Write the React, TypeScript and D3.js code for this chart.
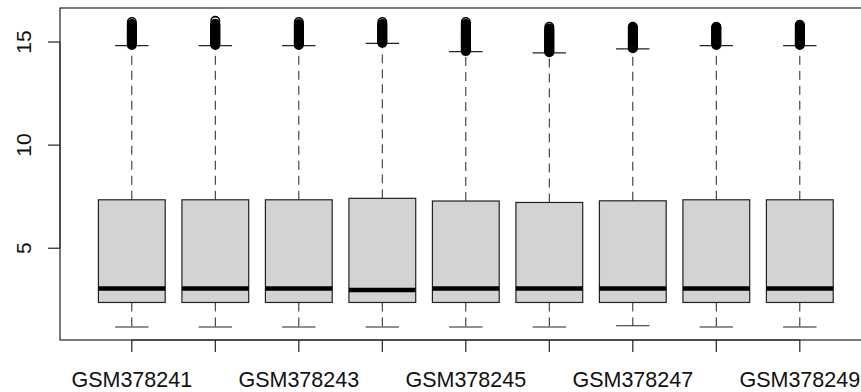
import React from "react";
import * as d3 from "d3";

const samples = [
  "GSM378241",
  "GSM378242",
  "GSM378243",
  "GSM378244",
  "GSM378245",
  "GSM378246",
  "GSM378247",
  "GSM378248",
  "GSM378249",
];
const lowerWhisker = [1.18, 1.18, 1.18, 1.18, 1.18, 1.18, 1.24, 1.18, 1.18];
const q1 = [2.37, 2.37, 2.37, 2.37, 2.37, 2.37, 2.37, 2.37, 2.37];
const medians = [3.05, 3.05, 3.05, 2.97, 3.05, 3.05, 3.05, 3.05, 3.05];
const q3 = [7.35, 7.35, 7.35, 7.42, 7.29, 7.22, 7.3, 7.35, 7.35];
const upperWhisker = [14.83, 14.83, 14.83, 14.93, 14.53, 14.47, 14.67, 14.83, 14.83];

// outliers above the upper whisker (thousands in the original, a readable subset here)
const out1 = [14.86, 14.9, 14.94, 14.98, 15.03, 15.07, 15.11, 15.15, 15.2, 15.24, 15.28, 15.33, 15.37, 15.41, 15.46, 15.5, 15.55, 15.59, 15.64, 15.68, 15.73, 15.78, 15.83, 15.87, 15.97];
const out2 = [14.86, 14.9, 14.94, 14.99, 15.03, 15.07, 15.12, 15.16, 15.2, 15.25, 15.29, 15.33, 15.38, 15.42, 15.47, 15.51, 15.56, 15.6, 15.65, 15.7, 15.74, 15.79, 15.84, 15.89, 16.03];
const out3 = [14.86, 14.9, 14.95, 14.99, 15.03, 15.08, 15.12, 15.16, 15.21, 15.25, 15.29, 15.34, 15.38, 15.42, 15.47, 15.51, 15.56, 15.6, 15.65, 15.69, 15.74, 15.79, 15.84, 15.88, 15.97];
const out4 = [14.96, 15.0, 15.04, 15.08, 15.13, 15.17, 15.21, 15.25, 15.3, 15.34, 15.38, 15.43, 15.47, 15.52, 15.56, 15.61, 15.65, 15.7, 15.74, 15.79, 15.84, 15.88, 15.97];
const out5 = [14.56, 14.6, 14.64, 14.68, 14.73, 14.77, 14.81, 14.85, 14.9, 14.94, 14.98, 15.03, 15.07, 15.11, 15.16, 15.2, 15.24, 15.29, 15.33, 15.37, 15.42, 15.46, 15.51, 15.55, 15.6, 15.64, 15.69, 15.74, 15.79, 15.84, 15.88, 15.97];
const out6 = [14.5, 14.54, 14.58, 14.62, 14.67, 14.71, 14.75, 14.79, 14.84, 14.88, 14.92, 14.97, 15.01, 15.05, 15.1, 15.14, 15.18, 15.23, 15.27, 15.32, 15.36, 15.41, 15.45, 15.5, 15.55, 15.6, 15.65, 15.74];
const out7 = [14.7, 14.74, 14.78, 14.83, 14.87, 14.91, 14.95, 15.0, 15.04, 15.08, 15.13, 15.17, 15.21, 15.26, 15.3, 15.34, 15.39, 15.43, 15.48, 15.52, 15.57, 15.61, 15.66, 15.7, 15.74];
const out8 = [14.86, 14.9, 14.94, 14.98, 15.03, 15.07, 15.11, 15.15, 15.2, 15.24, 15.28, 15.33, 15.37, 15.41, 15.46, 15.5, 15.55, 15.59, 15.63, 15.67, 15.71, 15.74];
const out9 = [14.86, 14.9, 14.94, 14.98, 15.03, 15.07, 15.11, 15.15, 15.2, 15.24, 15.28, 15.33, 15.37, 15.41, 15.46, 15.5, 15.55, 15.59, 15.63, 15.68, 15.72, 15.76, 15.8, 15.84];
const outliers = [out1, out2, out3, out4, out5, out6, out7, out8, out9];

const yTicks = [5, 10, 15];

const width = 861;
const height = 392;
const plotLeft = 60;
const plotTop = 8;
const plotBottom = 340;
const unit = 83.5; // px per box slot

const font = "'Liberation Sans', Arial, sans-serif";
const ink = "#222";

export default function App() {
  const n = samples.length;
  // R boxplot: x range 0.5..n+0.5 extended 4%
  const x = d3
    .scaleLinear()
    .domain([0.14, n + 0.86])
    .range([plotLeft, plotLeft + (n + 0.72) * unit]);
  const y = d3.scaleLinear().domain([0.55, 16.65]).range([plotBottom, plotTop]);

  const boxW = x(0.8) - x(0);
  const capW = boxW / 2;

  return (
    <svg
      width={width}
      height={height}
      style={{ position: "absolute", left: 0, top: 0, background: "#fff" }}
    >
      {samples.map((s, i) => {
        const cx = x(i + 1);
        return (
          <g key={s}>
            <line x1={cx} x2={cx} y1={y(q3[i])} y2={y(upperWhisker[i])} stroke={ink} strokeDasharray="9,6" />
            <line x1={cx} x2={cx} y1={y(q1[i])} y2={y(lowerWhisker[i])} stroke={ink} strokeDasharray="9,6" />
            <line x1={cx - capW / 2} x2={cx + capW / 2} y1={y(upperWhisker[i])} y2={y(upperWhisker[i])} stroke={ink} strokeWidth={1.2} />
            <line x1={cx - capW / 2} x2={cx + capW / 2} y1={y(lowerWhisker[i])} y2={y(lowerWhisker[i])} stroke={ink} strokeWidth={1.2} />
            <rect
              x={cx - boxW / 2}
              y={y(q3[i])}
              width={boxW}
              height={y(q1[i]) - y(q3[i])}
              fill="#d3d3d3"
              stroke={ink}
              strokeWidth={1.2}
            />
            <line x1={cx - boxW / 2} x2={cx + boxW / 2} y1={y(medians[i])} y2={y(medians[i])} stroke="#000" strokeWidth={4.5} />
            {outliers[i].map((v, j) => (
              <circle key={j} cx={cx} cy={y(v)} r={4.2} fill="none" stroke="#000" strokeWidth={1.6} />
            ))}
          </g>
        );
      })}

      {/* frame */}
      <rect
        x={plotLeft}
        y={plotTop}
        width={x(n + 0.86) - plotLeft}
        height={plotBottom - plotTop}
        fill="none"
        stroke={ink}
        strokeWidth={1.2}
      />

      {/* y axis */}
      <line x1={plotLeft} x2={plotLeft} y1={y(yTicks[0])} y2={y(yTicks[yTicks.length - 1])} stroke={ink} />
      {yTicks.map((t) => (
        <g key={t}>
          <line x1={plotLeft - 12} x2={plotLeft} y1={y(t)} y2={y(t)} stroke={ink} strokeWidth={1.2} />
          <text
            transform={`translate(30.5,${y(t)}) rotate(-90)`}
            textAnchor="middle"
            fontFamily={font}
            fontSize={21}
            fill="#111"
          >
            {t}
          </text>
        </g>
      ))}

      {/* x axis */}
      <line x1={x(1)} x2={x(n)} y1={plotBottom} y2={plotBottom} stroke={ink} />
      {samples.map((s, i) => (
        <g key={s}>
          <line x1={x(i + 1)} x2={x(i + 1)} y1={plotBottom} y2={plotBottom + 12} stroke={ink} strokeWidth={1.2} />
          {i % 2 === 0 && (
            <text x={x(i + 1)} y={387} textAnchor="middle" fontFamily={font} fontSize={21.5} fill="#111">
              {s}
            </text>
          )}
        </g>
      ))}
    </svg>
  );
}
